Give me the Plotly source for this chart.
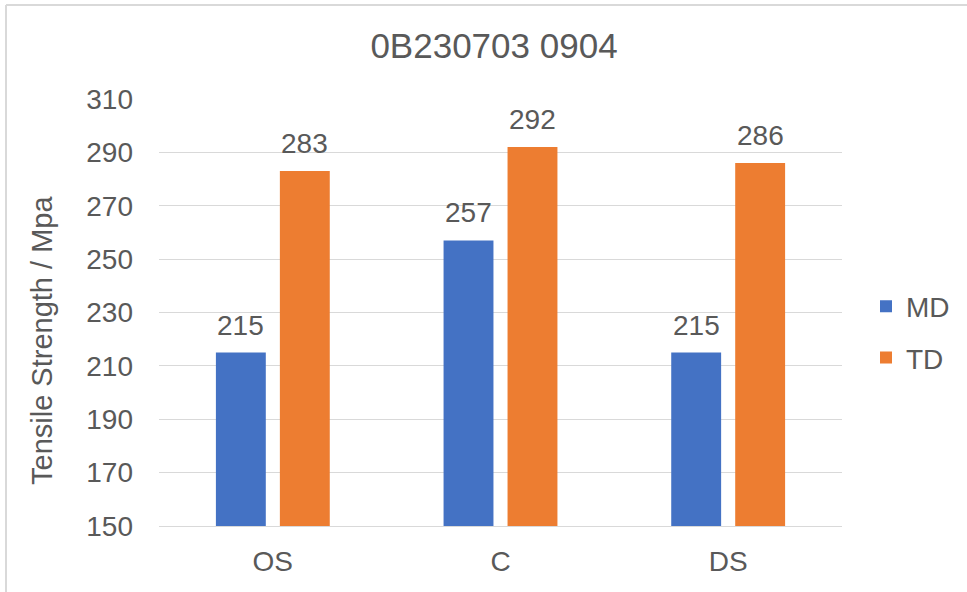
import plotly.graph_objects as go

categories = ["OS", "C", "DS"]
md_values = [215, 257, 215]
td_values = [283, 292, 286]
series_names = ["MD", "TD"]
y_ticks = [150, 170, 190, 210, 230, 250, 270, 290, 310]
title_text = "0B230703 0904"
y_title = "Tensile Strength / Mpa"

FONT = "Liberation Sans, Arial, sans-serif"
GRAY = "#595959"
GRID = "#D9D9D9"
COLORS = ["#4472C4", "#ED7D31"]

W, H = 967, 592
L, R, T, B = 159, 125, 99, 66
pw, ph = W - L - R, H - T - B

fig = go.Figure()
for i, (name, vals) in enumerate(zip(series_names, [md_values, td_values])):
    fig.add_trace(go.Bar(
        x=categories, y=vals, name=name,
        marker=dict(color=COLORS[i], line=dict(width=0)),
        legendgroup=name,
    ))

# data labels above bars
slot = 32
for i, vals in enumerate([md_values, td_values]):
    shift = -slot if i == 0 else slot
    for c, v in zip(categories, vals):
        fig.add_annotation(
            x=c, y=v, xref="x", yref="y", text=str(v), showarrow=False,
            xshift=shift, yshift=10, yanchor="bottom",
            font=dict(family=FONT, size=28, color=GRAY),
        )

# axis title as annotation
fig.add_annotation(
    xref="paper", yref="paper", x=(42 - L) / pw, y=(H - B - 341) / ph,
    text=y_title, textangle=-90, showarrow=False,
    xanchor="center", yanchor="middle",
    font=dict(family=FONT, size=29, color=GRAY),
)

# chart border (top & left visible)
x0 = (6 - L) / pw
x1 = (W - L) / pw
ytop = 1 + (T - 5) / ph
ybot = -(B) / ph
fig.add_shape(type="line", xref="paper", yref="paper", x0=x0, x1=x1, y0=ytop, y1=ytop,
              line=dict(color=GRID, width=2))
fig.add_shape(type="line", xref="paper", yref="paper", x0=x0, x1=x0, y0=ytop, y1=ybot,
              line=dict(color=GRID, width=2))

fig.update_layout(
    width=W, height=H,
    margin=dict(l=L, r=R, t=T, b=B, pad=0),
    paper_bgcolor="white", plot_bgcolor="white",
    barmode="group", bargap=0.438, bargroupgap=0.22,
    title=dict(text=title_text, x=(494 - L) / pw, xref="paper", xanchor="center",
               y=1 - 46 / H, yref="container", yanchor="middle",
               font=dict(family=FONT, size=35, color=GRAY)),
    font=dict(family=FONT, size=28, color=GRAY),
    legend=dict(x=(866 - L) / pw, xanchor="left", y=(H - B - 332) / ph, yanchor="middle",
                traceorder="grouped", tracegroupgap=12,
                font=dict(family=FONT, size=28, color=GRAY), bgcolor="rgba(0,0,0,0)"),
    showlegend=True,
)
fig.update_xaxes(showgrid=False, showline=True, linecolor=GRID, linewidth=1, ticks="",
                 tickfont=dict(family=FONT, size=28, color=GRAY), ticklabelstandoff=10)
fig.update_yaxes(range=[150, 310], tickvals=y_ticks, showgrid=True, gridcolor=GRID, gridwidth=1,
                 zeroline=False, showline=False, ticks="",
                 tickfont=dict(family=FONT, size=28, color=GRAY), ticklabelstandoff=25)

fig.write_html("out.html")
